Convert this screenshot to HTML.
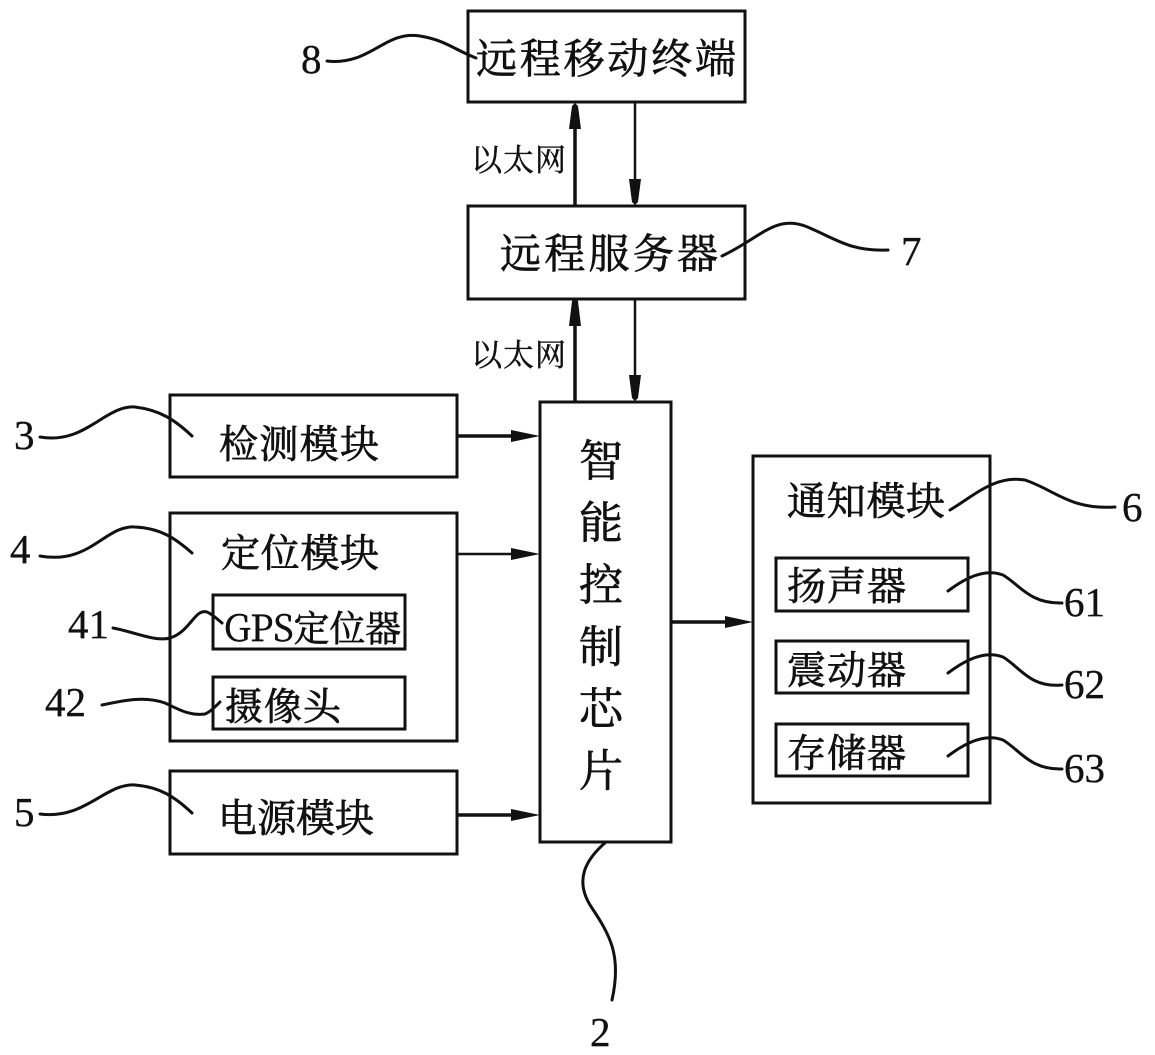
<!DOCTYPE html>
<html><head><meta charset="utf-8">
<style>
html,body{margin:0;padding:0;background:#fff;width:1155px;height:1055px;overflow:hidden}
svg{display:block}
text{fill:#111;stroke:#111;stroke-width:.7px;font-family:"Noto Serif CJK SC","Liberation Serif",serif}
text.n{font-family:"Liberation Serif",serif;font-size:41px;stroke-width:.35px}
.l{fill:none;stroke:#111;stroke-width:3;stroke-linecap:round}
.b{fill:none;stroke:#111;stroke-width:3}
.a{fill:#111;stroke:none}
</style></head><body>
<svg width="1155" height="1055" viewBox="0 0 1155 1055" xmlns="http://www.w3.org/2000/svg">
<!-- boxes -->
<rect class="b" x="468" y="11" width="277" height="91"/>
<rect class="b" x="468" y="206" width="277" height="93"/>
<rect class="b" x="170" y="395" width="287" height="82"/>
<rect class="b" x="170" y="513" width="287" height="228"/>
<rect class="b" x="213" y="595" width="192" height="54"/>
<rect class="b" x="213" y="677" width="192" height="52"/>
<rect class="b" x="170" y="771" width="287" height="83"/>
<rect class="b" x="540" y="402" width="131" height="440"/>
<rect class="b" x="753" y="456" width="237" height="347"/>
<rect class="b" x="776" y="558" width="192" height="53"/>
<rect class="b" x="776" y="641" width="192" height="52"/>
<rect class="b" x="776" y="724" width="192" height="52"/>
<!-- connectors -->
<path fill="none" stroke="#111" stroke-width="3.5" d="M575 206V125M575 402V322M457 436H518M457 815H518M671 622H732"/>
<path fill="none" stroke="#111" stroke-width="2.5" d="M635 102V186M635 299V380M457 554H518"/>
<path class="a" d="M575 103l-3 3l-3 23h12l-3-23zM635 205l-3-3l-3-23h12l-3 23zM575 298l-3 3l-3 25h12l-3-25zM635 401l-3-3l-3-23h12l-3 23zM540 436l-29-6v12zM540 554l-29-6v12zM540 815l-29-6v12zM753 622l-28-6v12z"/>
<!-- leaders -->
<path class="l" d="M327 61C370 66 385 30 420 36C445 40 455 50 476 58"/>
<path class="l" d="M722 256C760 238 775 215 805 226C835 238 850 252 888 250"/>
<path class="l" d="M40 437C85 445 105 405 135 407C160 410 175 420 192 436"/>
<path class="l" d="M40 556C90 565 105 525 135 527C160 528 175 538 192 553"/>
<path class="l" d="M113 628C135 632 155 642 170 638C190 632 195 608 207 612C212 614 216 618 222 623"/>
<path class="l" d="M102 705C125 700 145 696 165 703C180 710 190 716 205 714C210 712 215 707 220 702"/>
<path class="l" d="M40 814C85 820 105 783 135 785C160 787 175 797 192 813"/>
<path class="l" d="M606 842C585 860 575 880 590 905C610 935 622 955 612 1000"/>
<path class="l" d="M950 510C975 495 995 475 1025 480C1055 490 1070 510 1115 507"/>
<path class="l" d="M948 591C965 578 985 568 1003 575C1020 585 1030 604 1062 603"/>
<path class="l" d="M948 673C965 660 985 650 1003 657C1020 667 1030 688 1062 685"/>
<path class="l" d="M948 756C965 743 985 733 1003 740C1020 750 1030 770 1062 769"/>
<!-- labels -->
<text x="476" y="73" font-size="41" textLength="260" lengthAdjust="spacing">远程移动终端</text>
<text x="500" y="268" font-size="41" textLength="218" lengthAdjust="spacing">远程服务器</text>
<text x="471" y="171" font-size="31" textLength="95" lengthAdjust="spacing" style="stroke-width:.4px">以太网</text>
<text x="471" y="366" font-size="31" textLength="95" lengthAdjust="spacing" style="stroke-width:.4px">以太网</text>
<text x="219" y="458" font-size="39" textLength="160" lengthAdjust="spacing">检测模块</text>
<text x="221" y="567" font-size="39" textLength="158" lengthAdjust="spacing">定位模块</text>
<text x="224" y="641" font-size="36" textLength="177" lengthAdjust="spacingAndGlyphs">GPS定位器</text>
<text x="225" y="720" font-size="38" textLength="116" lengthAdjust="spacing">摄像头</text>
<text x="218" y="832" font-size="39" textLength="156" lengthAdjust="spacing">电源模块</text>
<text x="787" y="515" font-size="39" textLength="158" lengthAdjust="spacing">通知模块</text>
<text x="787" y="600" font-size="39" textLength="119" lengthAdjust="spacing">扬声器</text>
<text x="787" y="684" font-size="39" textLength="119" lengthAdjust="spacing">震动器</text>
<text x="787" y="767" font-size="39" textLength="119" lengthAdjust="spacing">存储器</text>
<g font-size="44" text-anchor="middle">
<text x="601" y="476">智</text>
<text x="601" y="538">能</text>
<text x="601" y="600">控</text>
<text x="601" y="662">制</text>
<text x="601" y="724">芯</text>
<text x="601" y="786">片</text>
</g>
<!-- numbers -->
<text class="n" x="301" y="73">8</text>
<text class="n" x="901" y="265">7</text>
<text class="n" x="14" y="449">3</text>
<text class="n" x="10" y="563">4</text>
<text class="n" x="68" y="638">41</text>
<text class="n" x="45" y="716">42</text>
<text class="n" x="14" y="826">5</text>
<text class="n" x="590" y="1046">2</text>
<text class="n" x="1122" y="521">6</text>
<text class="n" x="1064" y="616">61</text>
<text class="n" x="1064" y="698">62</text>
<text class="n" x="1064" y="782">63</text>
</svg>
</body></html>
